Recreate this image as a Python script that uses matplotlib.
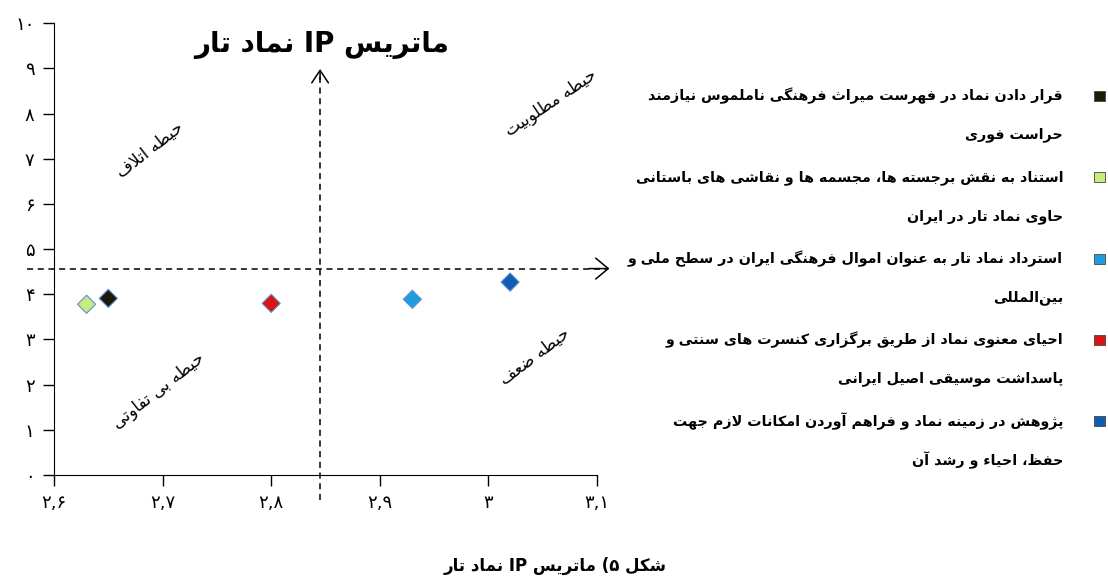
import matplotlib
matplotlib.use('Agg')
import matplotlib.pyplot as plt
from matplotlib.patches import Rectangle

plt.rcParams['font.family'] = ['DejaVu Sans']

# ---- data ----
labels = [
    'قرار دادن نماد در فهرست میراث فرهنگی ناملموس نیازمند\nحراست فوری',
    'استناد به نقش برجسته ها، مجسمه ها و نقاشی های باستانی\nحاوی نماد تار در ایران',
    'استرداد نماد تار به عنوان اموال فرهنگی ایران در سطح ملی و\nبین\u200cالمللی',
    'احیای معنوی نماد از طریق برگزاری کنسرت های سنتی و\nپاسداشت موسیقی اصیل ایرانی',
    'پژوهش در زمینه نماد و فراهم آوردن امکانات لازم جهت\nحفظ، احیاء و رشد آن',
]
x_vals = [2.650, 2.630, 2.930, 2.800, 3.020]
y_vals = [3.91, 3.78, 3.89, 3.80, 4.27]
colors = ['#1c1a08', '#c6ec7e', '#1f9de0', '#d81414', '#0f5cb2']

x_ticks = [2.6, 2.7, 2.8, 2.9, 3.0, 3.1]
x_tick_labels = ['۲,۶', '۲,۷', '۲,۸', '۲,۹', '۳', '۳,۱']
y_ticks = list(range(0, 11))
y_tick_labels = ['۰', '۱', '۲', '۳', '۴', '۵', '۶', '۷', '۸', '۹', '۱۰']

x_split = 2.845   # vertical reference line
y_split = 4.57    # horizontal reference line

title = 'ماتریس IP نماد تار'
caption = 'شکل ۵) ماتریس IP نماد تار'
zones = ['حیطه اتلاف', 'حیطه مطلوبیت', 'حیطه بی تفاوتی', 'حیطه ضعف']


# ---- tiny arabic/persian shaper (matplotlib has no text shaping) ----
FORMS = {
    '\u0621': ('\uFE80',),
    '\u0622': ('\uFE81', '\uFE82'),
    '\u0623': ('\uFE83', '\uFE84'),
    '\u0626': ('\uFE89', '\uFE8A', '\uFE8B', '\uFE8C'),
    '\u0627': ('\uFE8D', '\uFE8E'),
    '\u0628': ('\uFE8F', '\uFE90', '\uFE91', '\uFE92'),
    '\u067E': ('\uFB56', '\uFB57', '\uFB58', '\uFB59'),
    '\u062A': ('\uFE95', '\uFE96', '\uFE97', '\uFE98'),
    '\u062B': ('\uFE99', '\uFE9A', '\uFE9B', '\uFE9C'),
    '\u062C': ('\uFE9D', '\uFE9E', '\uFE9F', '\uFEA0'),
    '\u0686': ('\uFB7A', '\uFB7B', '\uFB7C', '\uFB7D'),
    '\u062D': ('\uFEA1', '\uFEA2', '\uFEA3', '\uFEA4'),
    '\u062E': ('\uFEA5', '\uFEA6', '\uFEA7', '\uFEA8'),
    '\u062F': ('\uFEA9', '\uFEAA'),
    '\u0630': ('\uFEAB', '\uFEAC'),
    '\u0631': ('\uFEAD', '\uFEAE'),
    '\u0632': ('\uFEAF', '\uFEB0'),
    '\u0698': ('\uFB8A', '\uFB8B'),
    '\u0633': ('\uFEB1', '\uFEB2', '\uFEB3', '\uFEB4'),
    '\u0634': ('\uFEB5', '\uFEB6', '\uFEB7', '\uFEB8'),
    '\u0635': ('\uFEB9', '\uFEBA', '\uFEBB', '\uFEBC'),
    '\u0636': ('\uFEBD', '\uFEBE', '\uFEBF', '\uFEC0'),
    '\u0637': ('\uFEC1', '\uFEC2', '\uFEC3', '\uFEC4'),
    '\u0638': ('\uFEC5', '\uFEC6', '\uFEC7', '\uFEC8'),
    '\u0639': ('\uFEC9', '\uFECA', '\uFECB', '\uFECC'),
    '\u063A': ('\uFECD', '\uFECE', '\uFECF', '\uFED0'),
    '\u0641': ('\uFED1', '\uFED2', '\uFED3', '\uFED4'),
    '\u0642': ('\uFED5', '\uFED6', '\uFED7', '\uFED8'),
    '\u06A9': ('\uFB8E', '\uFB8F', '\uFB90', '\uFB91'),
    '\u06AF': ('\uFB92', '\uFB93', '\uFB94', '\uFB95'),
    '\u0644': ('\uFEDD', '\uFEDE', '\uFEDF', '\uFEE0'),
    '\u0645': ('\uFEE1', '\uFEE2', '\uFEE3', '\uFEE4'),
    '\u0646': ('\uFEE5', '\uFEE6', '\uFEE7', '\uFEE8'),
    '\u0647': ('\uFEE9', '\uFEEA', '\uFEEB', '\uFEEC'),
    '\u0648': ('\uFEED', '\uFEEE'),
    '\u06CC': ('\uFBFC', '\uFBFD', '\uFBFE', '\uFBFF'),
    '\u064A': ('\uFEF1', '\uFEF2', '\uFEF3', '\uFEF4'),
}
LAMALEF = {'\u0627': ('\uFEFB', '\uFEFC'), '\u0622': ('\uFEF5', '\uFEF6'),
           '\u0623': ('\uFEF7', '\uFEF8')}
MIRROR = {'(': ')', ')': '('}


def shape(s):
    out = []
    n = len(s)
    i = 0
    while i < n:
        c = s[i]
        if c not in FORMS:
            if c != '\u200c':
                out.append(c)
            i += 1
            continue
        f = FORMS[c]
        prev = s[i - 1] if i > 0 else None
        jp = len(f) > 1 and prev in FORMS and len(FORMS[prev]) == 4
        if c == '\u0644' and i + 1 < n and s[i + 1] in LAMALEF:
            out.append(LAMALEF[s[i + 1]][1 if jp else 0])
            i += 2
            continue
        nxt = s[i + 1] if i + 1 < n else None
        jn = len(f) == 4 and nxt in FORMS and len(FORMS[nxt]) > 1
        if jp and jn:
            out.append(f[3])
        elif jp:
            out.append(f[1])
        elif jn:
            out.append(f[2])
        else:
            out.append(f[0])
        i += 1
    return ''.join(out)


def is_ltr(c):
    return (c.isascii() and c.isalnum()) or ('\u06f0' <= c <= '\u06f9')


def fa(s):
    lines = []
    for line in s.split('\n'):
        g = shape(line)
        runs = []
        for ch in g:
            t = is_ltr(ch)
            if runs and runs[-1][0] == t:
                runs[-1][1].append(ch)
            else:
                runs.append((t, [ch]))
        vis = ''
        for t, chars in reversed(runs):
            if t:
                vis += ''.join(chars)
            else:
                vis += ''.join(MIRROR.get(ch, ch) for ch in reversed(chars))
        lines.append(vis)
    return '\n'.join(lines)


# ---- figure ----
W, H = 1108, 584
fig = plt.figure(figsize=(W / 100, H / 100), dpi=100)
ax = fig.add_axes([54 / W, (H - 475) / H, (597 - 54) / W, (475 - 23.3) / H])

ax.scatter(x_vals, y_vals, marker='D', s=85, c=colors, edgecolors='#5b8fd0',
           linewidths=0.8, zorder=5)

ax.set_xlim(2.6, 3.1)
ax.set_ylim(0, 10)
ax.set_xticks(x_ticks)
ax.set_xticklabels(x_tick_labels, fontsize=13)
ax.set_yticks(y_ticks)
ax.set_yticklabels(y_tick_labels, fontsize=13)
ax.tick_params(direction='out', length=8, width=1, pad=6)
for side in ['top', 'right']:
    ax.spines[side].set_visible(False)
ax.patch.set_alpha(0)

# dashed quadrant lines with open arrowheads
ax.plot([x_split, x_split], [-0.55, 8.85], ls=(0, (4, 3)), color='black', lw=1.1,
        clip_on=False)
ax.annotate('', xy=(x_split, 9.05), xytext=(x_split, 8.7), annotation_clip=False,
            arrowprops=dict(arrowstyle='->,head_length=0.6,head_width=0.4',
                            mutation_scale=15, lw=1.1, color='black'))
ax.plot([2.575, 3.108], [y_split, y_split], ls=(0, (4, 3)), color='black', lw=1.1,
        clip_on=False)
ax.annotate('', xy=(3.114, y_split), xytext=(3.09, y_split), annotation_clip=False,
            arrowprops=dict(arrowstyle='->,head_length=0.6,head_width=0.5',
                            mutation_scale=15, lw=1.1, color='black'))

ax.text(2.846, 9.52, fa(title), fontsize=20, fontweight='bold', ha='center', va='center')

zone_pos = [(2.688, 7.2, 38), (3.058, 8.24, 34), (2.696, 1.86, 38), (3.043, 2.63, 37)]
for z, (zx, zy, rot) in zip(zones, zone_pos):
    ax.text(zx, zy, fa(z), fontsize=12, rotation=rot, ha='center', va='center',
            rotation_mode='anchor')

# legend on the right, markers right of the text
lax = fig.add_axes([0, 0, 1, 1])
lax.set_xlim(0, W)
lax.set_ylim(H, 0)
lax.axis('off')
for i, (lab, col) in enumerate(zip(labels, colors)):
    y0 = 96 + i * 81.3
    lax.add_patch(Rectangle((1094, y0 - 5), 11, 10, facecolor=col, edgecolor='#444444',
                            lw=0.6))
    for k, line in enumerate(lab.split('\n')):
        lax.text(1063, y0 + k * 39, fa(line), fontsize=10.3, fontweight='bold',
                 ha='right', va='center')

fig.text(555 / W, 1 - 566 / H, fa(caption), fontsize=12, fontweight='bold',
         ha='center', va='center')

fig.savefig('out.png', dpi=100)
